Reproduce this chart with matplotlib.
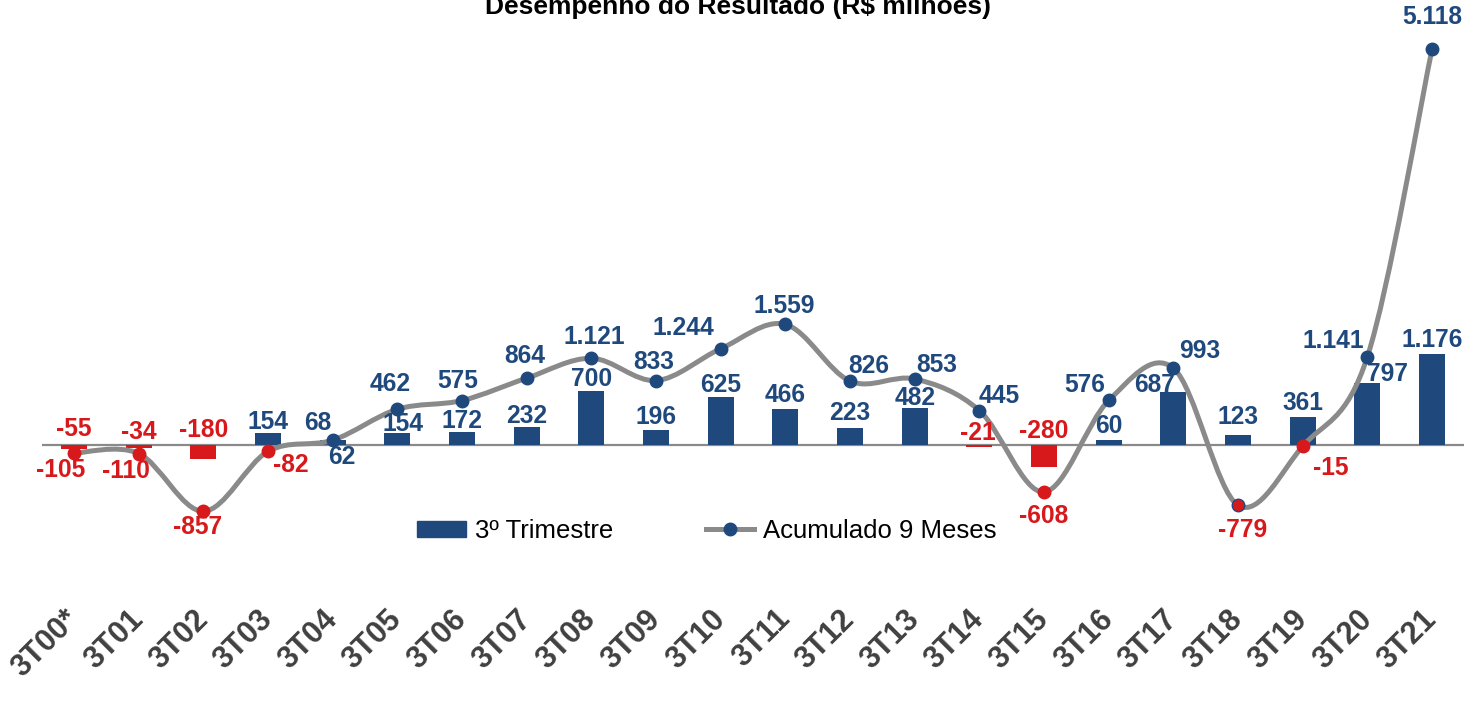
import numpy as np
import matplotlib
matplotlib.use('Agg')
import matplotlib.pyplot as plt
from matplotlib.path import Path
from matplotlib.patches import PathPatch, Patch
from matplotlib.lines import Line2D

plt.rcParams['font.family'] = ['Liberation Sans', 'DejaVu Sans']

categories = ['3T00*', '3T01', '3T02', '3T03', '3T04', '3T05', '3T06', '3T07',
              '3T08', '3T09', '3T10', '3T11', '3T12', '3T13', '3T14', '3T15',
              '3T16', '3T17', '3T18', '3T19', '3T20', '3T21']
quarter = [-55, -34, -180, 154, 68, 154, 172, 232, 700, 196, 625, 466, 223,
           482, -21, -280, 60, 687, 123, 361, 797, 1176]
accum = [-105, -110, -857, -82, 62, 462, 575, 864, 1121, 833, 1244, 1559, 826,
         853, 445, -608, 576, 993, -779, -15, 1141, 5118]

title = 'Desempenho do Resultado (R$ milhões)'
legend_labels = ['3º Trimestre', 'Acumulado 9 Meses']

NAVY = '#1F497D'
RED = '#D7191C'
GRAY = '#8A8A8A'

# label offsets in pixels (dx, dy)
acc_off = [(-13, -17), (-13, -17), (-6, -16), (23, -14), (9, -17), (-7, 25),
           (-4, 20), (-2, 22), (3, 21), (-2, 19), (-37, 21), (-1, 18),
           (19, 15), (22, 14), (20, 15), (0, -24), (-24, 15), (26, 17),
           (5, -25), (28, -22), (-34, 16), (0, 32)]
bar_off = [(0, 16), (0, 13), (0, 15), (0, 11), (-15, 17), (6, 9), (0, 11),
           (0, 11), (0, 12), (0, 13), (0, 12), (0, 14), (0, 15), (0, 10),
           (-2, 12), (0, 14), (0, 14), (-19, 7), (0, 18), (0, 14), (20, 9),
           (0, 14)]


def fmt(v):
    return f"{v:,}".replace(',', '.')


W, H = 1481, 701
fig = plt.figure(figsize=(W / 100, H / 100), dpi=100)
left_px, right_px = 41.7, 1464.4
top_px, bot_px = 30, 598
ax = fig.add_axes([left_px / W, (H - bot_px) / H, (right_px - left_px) / W,
                   (bot_px - top_px) / H])
scale = 396 / 5118.0  # px per unit
zero_px = 445
ax.set_xlim(-0.5, len(categories) - 0.5)
ax.set_ylim(-(bot_px - zero_px) / scale, (zero_px - top_px) / scale)

x = np.arange(len(categories))
ax.axhline(0, color=GRAY, lw=1.6, zorder=1)
bar_colors = [NAVY if v >= 0 else RED for v in quarter]
ax.bar(x, quarter, width=0.4, color=bar_colors, zorder=2)

# smoothed line (Catmull-Rom / Excel-like Bezier)
pts = np.column_stack([x, accum]).astype(float)
n = len(pts)
verts = [pts[0]]
codes = [Path.MOVETO]
for i in range(n - 1):
    p0 = pts[i - 1] if i > 0 else pts[i]
    p1 = pts[i]
    p2 = pts[i + 1]
    p3 = pts[i + 2] if i + 2 < n else pts[i + 1]
    c1 = p1 + (p2 - p0) / 6.0
    c2 = p2 - (p3 - p1) / 6.0
    verts += [c1, c2, p2]
    codes += [Path.CURVE4] * 3
ax.add_patch(PathPatch(Path(verts, codes), fill=False, edgecolor=GRAY,
                       lw=3.6, capstyle='round', zorder=3))

for i, v in enumerate(accum):
    fc = NAVY if v >= 0 else RED
    ec = fc
    if i == 18:
        ec = NAVY
    ax.plot(x[i], v, 'o', ms=9, mfc=fc, mec=ec, mew=1, zorder=4)

LBL = 17.7
for i, v in enumerate(accum):
    dx, dy = acc_off[i]
    ax.annotate(fmt(v), (x[i], v), xytext=(dx, dy), textcoords='offset pixels',
                ha='center', va='center', fontsize=LBL, fontweight='bold',
                color=NAVY if v >= 0 else RED, zorder=5)

for i, v in enumerate(quarter):
    dx, dy = bar_off[i]
    base = v if v >= 0 else 0
    ax.annotate(fmt(v), (x[i], base), xytext=(dx, dy), textcoords='offset pixels',
                ha='center', va='center', fontsize=LBL, fontweight='bold',
                color=NAVY if v >= 0 else RED, zorder=5)

for s in ax.spines.values():
    s.set_visible(False)
ax.set_yticks([])
ax.set_xticks(x)
ax.set_xticklabels(categories, rotation=45, ha='right', va='center',
                   rotation_mode='anchor', fontsize=22, fontweight='bold',
                   color='#404040')
ax.tick_params(axis='x', length=0, pad=12)

handles = [Patch(color=NAVY),
           Line2D([], [], color=GRAY, lw=3.6, marker='o', ms=9, mfc=NAVY, mec=NAVY)]
fig.legend(handles, legend_labels, loc='center',
           bbox_to_anchor=(707 / W, 1 - 531 / H), ncol=2, frameon=False,
           fontsize=18.5, handlelength=1.9, handleheight=0.6,
           columnspacing=3.6, handletextpad=0.35)

fig.text(0.4986, 1 - 14 / H, title, ha='center', va='baseline',
         fontsize=19, fontweight='bold', color='black')

fig.savefig('out.png', dpi=100)
